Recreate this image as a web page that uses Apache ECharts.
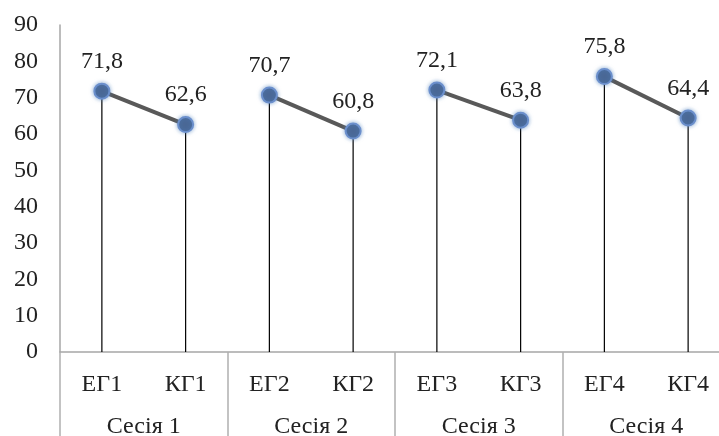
<!DOCTYPE html>
<html><head><meta charset="utf-8">
<script src="https://cdn.jsdelivr.net/npm/echarts@6/dist/echarts.min.js"></script>
<style>html,body{margin:0;padding:0;background:#fff;overflow:hidden}#c{width:719px;height:436px}</style>
</head><body><div id="c"></div>
<script>
const categories = ['ЕГ1','КГ1','ЕГ2','КГ2','ЕГ3','КГ3','ЕГ4','КГ4'];
const sessions = ['Сесія 1','Сесія 2','Сесія 3','Сесія 4'];
const values = [71.8, 62.6, 70.7, 60.8, 72.1, 63.8, 75.8, 64.4];
const yTicks = {min: 0, max: 90, interval: 10};

const font = 'Liberation Serif';
const pairSeries = sessions.map((s, i) => ({
  type: 'line',
  name: s,
  data: [[2*i, values[2*i]], [2*i+1, values[2*i+1]]],
  symbol: 'circle',
  symbolSize: 15,
  lineStyle: {color: '#595959', width: 4},
  itemStyle: {color: '#4a6896', borderColor: '#6b8fcc', borderWidth: 2, shadowColor: 'rgba(79,129,189,0.6)', shadowBlur: 4},
  label: {show: true, position: 'top', distance: 9, fontFamily: font, fontSize: 24, color: '#222',
    formatter: p => String(p.value[1]).replace('.', ',')},
  z: 5
}));

const option = {
  animation: false,
  grid: {left: 60, width: 670, top: 25, bottom: 84, outerBoundsMode: 'none'},
  xAxis: [{
    type: 'category', data: categories, position: 'bottom',
    axisLine: {lineStyle: {color: '#a6a6a6', width: 1.5}},
    axisTick: {show: false},
    axisLabel: {fontFamily: font, fontSize: 24, color: '#222', margin: 21}
  }, {
    type: 'category', data: sessions, position: 'bottom',
    axisLine: {show: false},
    axisTick: {show: true, length: 84, lineStyle: {color: '#b0b0b0', width: 1.5}},
    axisLabel: {fontFamily: font, fontSize: 24, color: '#222', margin: 63}
  }],
  yAxis: {
    type: 'value', min: yTicks.min, max: yTicks.max, interval: yTicks.interval,
    axisLine: {show: true, lineStyle: {color: '#a6a6a6', width: 1.5}},
    axisTick: {show: false},
    splitLine: {show: false},
    axisLabel: {fontFamily: font, fontSize: 24, color: '#222', margin: 22}
  },
  series: [{
    type: 'bar', data: values, barWidth: 1.2, itemStyle: {color: '#000'}, z: 2, xAxisIndex: 0
  }].concat(pairSeries)
};
echarts.init(document.getElementById('c')).setOption(option);
</script></body></html>
